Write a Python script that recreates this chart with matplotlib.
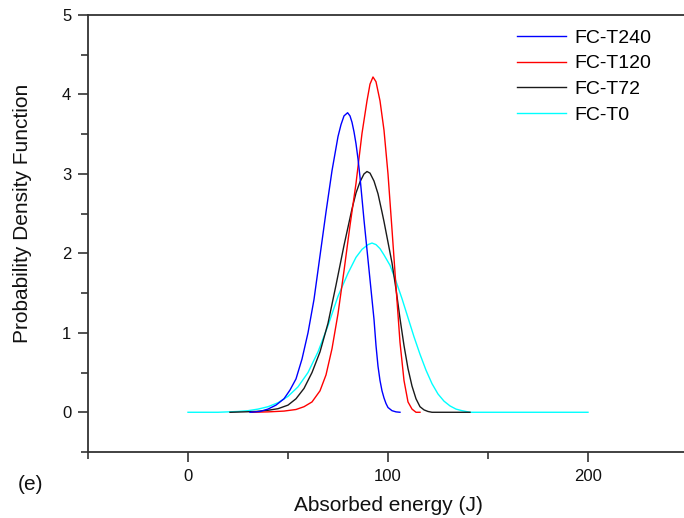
import matplotlib
matplotlib.use("Agg")
import matplotlib.pyplot as plt
from matplotlib.ticker import MultipleLocator

plt.rcParams['font.family'] = ['Liberation Sans', 'DejaVu Sans']

# FC-T240 (blue)
x_t240 = [31, 36, 40, 44, 48, 51, 54, 57, 60, 63, 66, 69, 72, 75, 76.5, 78, 79.8, 81, 82, 83, 84, 85, 86, 88, 90, 92, 93, 94, 95, 96, 97, 98, 99, 100, 102, 104, 106]
y_t240 = [0.0, 0.01, 0.04, 0.09, 0.17, 0.28, 0.42, 0.67, 1.00, 1.42, 1.97, 2.52, 3.04, 3.47, 3.62, 3.73, 3.77, 3.73, 3.65, 3.53, 3.38, 3.19, 2.96, 2.42, 1.92, 1.42, 1.17, 0.84, 0.58, 0.40, 0.27, 0.18, 0.11, 0.06, 0.02, 0.005, 0.0]

# FC-T120 (red)
x_t120 = [32, 40, 48, 54, 58, 62, 66, 69, 72, 75, 78, 81, 84, 87, 89.5, 91, 92.5, 94, 96, 98, 100, 102, 104, 106, 108, 110, 112, 114, 116]
y_t120 = [0.0, 0.005, 0.015, 0.035, 0.07, 0.13, 0.27, 0.47, 0.80, 1.24, 1.78, 2.35, 2.88, 3.51, 3.92, 4.13, 4.22, 4.16, 3.92, 3.55, 3.00, 2.30, 1.58, 0.88, 0.40, 0.13, 0.04, 0.0, 0.0]

# FC-T72 (black)
x_t72 = [21, 28, 34, 40, 45, 50, 54, 58, 62, 66, 70, 74, 78, 82, 84, 86, 88, 89.5, 91, 93, 95, 97, 98, 100, 102, 104, 106, 108, 110, 112, 114, 116, 118, 120, 122, 141]
y_t72 = [0.0, 0.005, 0.01, 0.025, 0.045, 0.09, 0.17, 0.30, 0.50, 0.76, 1.12, 1.60, 2.10, 2.56, 2.76, 2.90, 3.00, 3.03, 3.01, 2.91, 2.75, 2.52, 2.40, 2.14, 1.88, 1.55, 1.18, 0.84, 0.55, 0.33, 0.17, 0.07, 0.03, 0.01, 0.0, 0.0]

# FC-T0 (cyan)
x_t0 = [0, 15, 20, 25, 30, 35, 40, 45, 50, 55, 60, 65, 70, 75, 80, 84, 87, 90, 92, 94, 96, 98, 101, 104, 107, 110, 113, 116, 119, 122, 125, 128, 131, 134, 137, 141, 200]
y_t0 = [0.0, 0.0, 0.005, 0.01, 0.02, 0.04, 0.07, 0.12, 0.20, 0.32, 0.50, 0.76, 1.09, 1.46, 1.75, 1.95, 2.05, 2.11, 2.13, 2.11, 2.06, 1.98, 1.85, 1.65, 1.43, 1.19, 0.95, 0.73, 0.53, 0.36, 0.23, 0.14, 0.08, 0.04, 0.02, 0.0, 0.0]

labels = ['FC-T240', 'FC-T120', 'FC-T72', 'FC-T0']
colors = ['#0000FF', '#FF0000', '#1a1a1a', '#00FFFF']

W, H = 684, 518
fig = plt.figure(figsize=(W / 100, H / 100), dpi=100)
ax = fig.add_axes([88 / W, (H - 452) / H, (688 - 88) / W, (452 - 15) / H])

series = [(x_t240, y_t240), (x_t120, y_t120), (x_t72, y_t72), (x_t0, y_t0)]
zorders = [5, 4, 3, 2]
handles = []
for (xs, ys), lab, c, z in zip(series, labels, colors, zorders):
    h, = ax.plot(xs, ys, color=c, lw=1.0, label=lab, zorder=z)
    handles.append(h)

ax.set_xlim(-50, 250)
ax.set_ylim(-0.5, 5)
ax.xaxis.set_major_locator(MultipleLocator(100))
ax.xaxis.set_minor_locator(MultipleLocator(50))
ax.yaxis.set_major_locator(MultipleLocator(1))
ax.yaxis.set_minor_locator(MultipleLocator(0.5))
ax.set_yticks([0, 1, 2, 3, 4, 5])
ax.set_xticks([0, 100, 200])

spine_c = '#333333'
for s in ['left', 'bottom', 'top']:
    ax.spines[s].set_color(spine_c)
    ax.spines[s].set_linewidth(1.3)
ax.spines['right'].set_visible(False)

ax.tick_params(axis='both', which='major', direction='out', length=7, width=1.2,
               color=spine_c, labelsize=12, labelcolor='#111111', pad=5)
ax.tick_params(axis='both', which='minor', direction='out', length=5, width=1.2, color=spine_c)
ax.tick_params(top=False, right=False, which='both')

ax.set_xlabel('Absorbed energy (J)', fontsize=15, color='#111111')
ax.set_ylabel('Probability Density Function', fontsize=15, color='#111111')
ax.xaxis.set_label_coords(0.5, -0.101)
ax.yaxis.set_label_coords(-0.093, 3.0 / 5.5)

leg = ax.legend(handles=handles, loc='upper left', frameon=False,
                bbox_to_anchor=(517 / W, 1 - 29 / H), bbox_transform=fig.transFigure,
                fontsize=14, handlelength=2.5, handletextpad=0.45,
                labelspacing=0.42, borderpad=0, borderaxespad=0)

fig.text(18 / W, 1 - 484 / H, '(e)', fontsize=15, color='#111111', va='center', ha='left')

fig.savefig('out.png', dpi=100)
